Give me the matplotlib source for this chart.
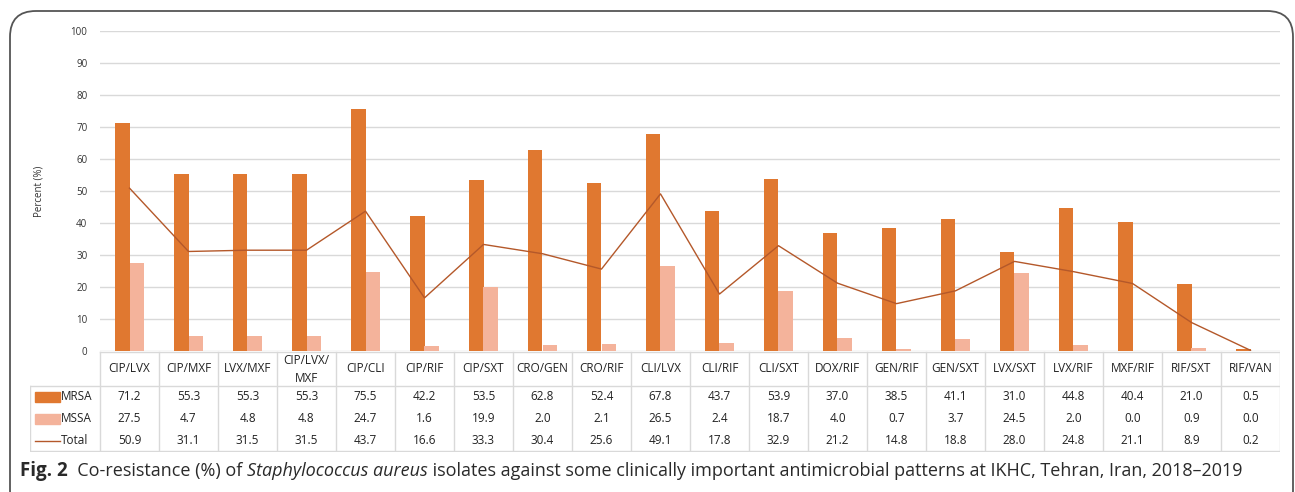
"""
Co-resistance bar chart (MRSA / MSSA / Total) with a data table under the axis.
"""
import numpy as np
import matplotlib
matplotlib.use("Agg")
import matplotlib.pyplot as plt
from matplotlib.patches import FancyBboxPatch, Rectangle

plt.rcParams['font.family'] = ['Open Sans', 'DejaVu Sans']

patterns = ["CIP/LVX", "CIP/MXF", "LVX/MXF", "CIP/LVX/\nMXF", "CIP/CLI", "CIP/RIF",
            "CIP/SXT", "CRO/GEN", "CRO/RIF", "CLI/LVX", "CLI/RIF", "CLI/SXT",
            "DOX/RIF", "GEN/RIF", "GEN/SXT", "LVX/SXT", "LVX/RIF", "MXF/RIF",
            "RIF/SXT", "RIF/VAN"]
mrsa = [71.2, 55.3, 55.3, 55.3, 75.5, 42.2, 53.5, 62.8, 52.4, 67.8,
        43.7, 53.9, 37.0, 38.5, 41.1, 31.0, 44.8, 40.4, 21.0, 0.5]
mssa = [27.5, 4.7, 4.8, 4.8, 24.7, 1.6, 19.9, 2.0, 2.1, 26.5,
        2.4, 18.7, 4.0, 0.7, 3.7, 24.5, 2.0, 0.0, 0.9, 0.0]
total = [50.9, 31.1, 31.5, 31.5, 43.7, 16.6, 33.3, 30.4, 25.6, 49.1,
         17.8, 32.9, 21.2, 14.8, 18.8, 28.0, 24.8, 21.1, 8.9, 0.2]
yticks = list(range(0, 101, 10))

C_MRSA = "#E07830"
C_MSSA = "#F4B39B"
C_TOTAL = "#B4582A"
C_GRID = "#D9D9D9"

W, H = 1295, 492
fig = plt.figure(figsize=(W / 100, H / 100), dpi=100)


def frac(x0, y0, x1, y1):
    # pixel box (top-left origin) -> figure fraction rect
    return [x0 / W, 1 - y1 / H, (x1 - x0) / W, (y1 - y0) / H]


n = len(patterns)
x = np.arange(n)
bw = 0.254

# --- chart ---
ax = fig.add_axes(frac(100, 31, 1280, 351))
ax.bar(x - bw / 2, mrsa, bw, color=C_MRSA, zorder=3)
ax.bar(x + bw / 2, mssa, bw, color=C_MSSA, zorder=3)
ax.plot(x, total, color=C_TOTAL, lw=1.0, zorder=4)
ax.set_xlim(-0.5, n - 0.5)
ax.set_ylim(0, 100)
ax.set_yticks(yticks)
ax.set_yticklabels([str(v) for v in yticks], fontsize=7, color="#333333")
ax.tick_params(axis="y", length=0, pad=9)
ax.set_xticks([])
ax.yaxis.grid(True, color=C_GRID, lw=1.0, zorder=0)
for s in ax.spines.values():
    s.set_visible(False)
ax.set_ylabel("Percent (%)", fontsize=7, color="#333333", labelpad=19)

# --- data table ---
lab_w = 70 / 59  # label column width in category units
tab = fig.add_axes(frac(30, 351, 1280, 452))
tab.set_xlim(-0.5 - lab_w, n - 0.5)
tab.set_ylim(101, 0)
tab.axis("off")
gkw = dict(color=C_GRID, lw=1.0)
tab.plot([-0.5, n - 0.5], [0.5, 0.5], **gkw)
tab.plot([-0.5 - lab_w, n - 0.5], [35, 35], **gkw)
tab.plot([-0.5 - lab_w, n - 0.5], [100, 100], **gkw)
tab.plot([-0.5 - lab_w, -0.5 - lab_w], [35, 100], **gkw)
for b in np.arange(n + 1) - 0.5:
    tab.plot([b, b], [0.5, 100], **gkw)

row_y = [46, 67.5, 89]
for i in range(n):
    tab.text(i, 18, patterns[i], ha="center", va="center", fontsize=8.5,
             color="#222222", linespacing=1.5)
    for vals, ry in zip([mrsa, mssa, total], row_y):
        tab.text(i, ry, f"{vals[i]:.1f}", ha="center", va="center",
                 fontsize=8.5, color="#222222")

# legend keys in the label column
kx0 = -0.5 - lab_w + 5 / 59
kx1 = kx0 + 25 / 59
tab.add_patch(Rectangle((kx0, row_y[0] - 5), kx1 - kx0, 10, color=C_MRSA))
tab.add_patch(Rectangle((kx0, row_y[1] - 5), kx1 - kx0, 10, color=C_MSSA))
tab.plot([kx0, kx1], [row_y[2] + 0.5, row_y[2] + 0.5], color=C_TOTAL, lw=1.0)
for name, ry in zip(["MRSA", "MSSA", "Total"], row_y):
    tab.text(kx1 + 1 / 59, ry, name, ha="left", va="center", fontsize=8.5,
             color="#222222")

# --- rounded frame ---
frame = FancyBboxPatch((10 / W, -0.05), (1283 / W), 1 - 11 / H + 0.05,
                       boxstyle="round,pad=0,rounding_size=0.02",
                       transform=fig.transFigure, fill=False,
                       ec="#555555", lw=1.3, mutation_aspect=W / H)
fig.add_artist(frame)

# --- caption ---
fig.canvas.draw()
r = fig.canvas.get_renderer()
cx, cy = 20 / W, 1 - 471 / H
pieces = [("Fig. 2", "bold", "normal", 13.5),
          ("  Co-resistance (%) of ", "normal", "normal", 13),
          ("Staphylococcus aureus", "normal", "italic", 13),
          (" isolates against some clinically important antimicrobial patterns at IKHC, Tehran, Iran, 2018\u20132019",
           "normal", "normal", 13)]
for txt, wt, st, fs in pieces:
    t = fig.text(cx, cy, txt, fontsize=fs, fontweight=wt, fontstyle=st,
                 ha="left", va="center", color="#2a2a2a")
    bb = t.get_window_extent(renderer=r)
    cx += bb.width / W

fig.savefig("out.png", dpi=100)
